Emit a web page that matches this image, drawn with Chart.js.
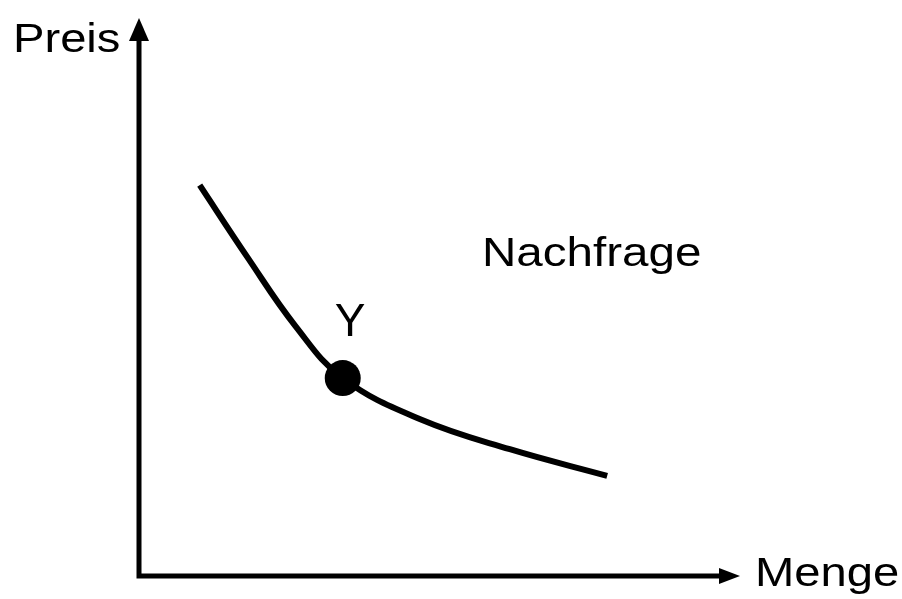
<!DOCTYPE html>
<html lang="de">
<head>
<meta charset="UTF-8">
<title>Nachfrage</title>
<script src="https://cdn.jsdelivr.net/npm/chart.js"></script>
<style>
  html, body { margin: 0; padding: 0; background: #fff; }
  #wrap { width: 902px; height: 599px; }
</style>
</head>
<body>
<div id="wrap"><canvas id="chart" width="902" height="599"></canvas></div>
<script>
// Nachfragekurve (Menge / Preis in willkürlichen Einheiten 0..100)
const menge = [10.1, 18.0, 26.0, 33.9, 46.8, 61.7, 77.9];
const preis = [70.3, 57.4, 45.0, 35.6, 28.2, 22.8, 18.0];
// Punkt Y
const punktY = [{ x: 33.9, y: 35.6 }];
const labels = { xAxis: 'Menge', yAxis: 'Preis', curve: 'Nachfrage', point: 'Y' };

const kurve = menge.map((m, i) => ({ x: m, y: preis[i] }));

const FONT = '"Liberation Sans", Arial, sans-serif';

function text(ctx, str, x, y, size, sx) {
  ctx.save();
  ctx.translate(x, y);
  ctx.scale(sx, 1);
  ctx.font = size + 'px ' + FONT;
  ctx.fillStyle = '#000';
  ctx.textBaseline = 'alphabetic';
  ctx.textAlign = 'left';
  ctx.fillText(str, 0, 0);
  ctx.restore();
}

// Achsen mit Pfeilen und Beschriftungen
const axesPlugin = {
  id: 'axes',
  afterDraw(chart) {
    const ctx = chart.ctx;
    const xs = chart.scales.x, ys = chart.scales.y;
    const x0 = xs.getPixelForValue(0), xEnd = xs.getPixelForValue(100);
    const y0 = ys.getPixelForValue(0), yEnd = ys.getPixelForValue(100);
    ctx.save();
    ctx.fillStyle = '#000';
    ctx.strokeStyle = '#000';
    ctx.lineWidth = 5;
    ctx.lineCap = 'butt';
    ctx.beginPath();
    ctx.moveTo(x0, y0 + 2.5);
    ctx.lineTo(x0, yEnd + 20);
    ctx.moveTo(x0 - 2.5, y0);
    ctx.lineTo(xEnd - 20, y0);
    ctx.stroke();
    // Pfeilspitzen
    ctx.beginPath();
    ctx.moveTo(x0, yEnd - 2);
    ctx.lineTo(x0 - 10, yEnd + 21);
    ctx.lineTo(x0 + 10, yEnd + 21);
    ctx.closePath();
    ctx.fill();
    ctx.beginPath();
    ctx.moveTo(xEnd, y0);
    ctx.lineTo(xEnd - 21, y0 - 8);
    ctx.lineTo(xEnd - 21, y0 + 8);
    ctx.closePath();
    ctx.fill();
    ctx.restore();

    text(ctx, labels.yAxis, 13, 52, 41, 1.15);
    text(ctx, labels.xAxis, 755, 586, 41, 1.15);
    text(ctx, labels.curve, 482, 266, 41, 1.16);
    ctx.save();
    ctx.font = '46px ' + FONT;
    ctx.fillStyle = '#000';
    ctx.textAlign = 'center';
    ctx.fillText(labels.point, 350, 336);
    ctx.restore();
  }
};

new Chart(document.getElementById('chart').getContext('2d'), {
  type: 'scatter',
  data: {
    datasets: [
      {
        label: labels.curve,
        data: kurve,
        showLine: true,
        borderColor: '#000',
        borderWidth: 6,
        borderCapStyle: 'butt',
        pointRadius: 0,
        tension: 0.4,
        order: 2
      },
      {
        label: labels.point,
        data: punktY,
        pointRadius: 18,
        pointHoverRadius: 18,
        backgroundColor: '#000',
        borderColor: '#000',
        borderWidth: 0,
        order: 1
      }
    ]
  },
  options: {
    responsive: false,
    animation: false,
    events: [],
    layout: { padding: { left: 139, right: 162, top: 20, bottom: 23 } },
    plugins: { legend: { display: false }, tooltip: { enabled: false } },
    scales: {
      x: { type: 'linear', min: 0, max: 100, display: false },
      y: { type: 'linear', min: 0, max: 100, display: false }
    }
  },
  plugins: [axesPlugin]
});
</script>
</body>
</html>
